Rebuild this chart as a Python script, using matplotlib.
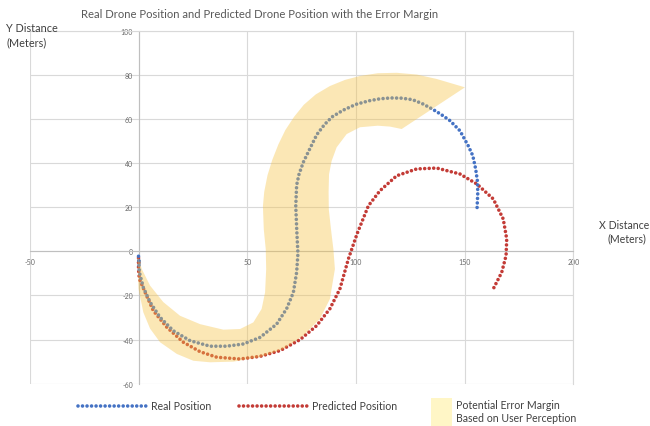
import matplotlib.pyplot as plt
from matplotlib.lines import Line2D
from matplotlib.patches import Rectangle

plt.rcParams['font.family'] = ['Lato', 'DejaVu Sans']
plt.rcParams['axes.unicode_minus'] = False

# real drone path
real_x = [0, 0.4, 2.2, 5.3, 9.9, 16, 23.7, 32.9, 40.5, 48.2, 55.9, 63.5, 68.1, 71.2,
          72.7, 73.3, 72.8, 72.3, 72.7, 73.8, 75.8, 78.5, 82, 85.5, 89, 94, 100, 106,
          111, 116, 121, 126, 130.5, 135, 139, 143.2, 147.8, 151.6, 153.7, 155, 155.8,
          156, 155.6]
real_y = [-2.2, -9.5, -16.3, -23, -29.9, -36, -40.5, -43, -43, -42, -39, -33, -26, -18.6,
          -9.5, -1, 8.7, 20.5, 30, 35, 40.5, 46, 53, 57.5, 61, 64, 66.7, 68.3,
          69.2, 69.6, 69.5, 68.8, 67, 64.6, 62.2, 59.3, 54.7, 47.9, 43.4, 37.5, 32,
          26.8, 18.3]

# predicted drone path
pred_x = [0, 0, 0.4, 3, 6.8, 13, 20.6, 28.3, 36, 46.7, 55.9, 65.1, 74.3, 81.9, 88,
          92.6, 96.5, 100.5, 105.7, 111, 118.7, 127.9, 137.1, 147.8, 155.5, 163.1,
          167.7, 169.3, 169, 167, 162.9]
pred_y = [-3, -8, -12.5, -18.5, -26.9, -34.4, -41.2, -45.5, -48, -48.8, -47.6, -45,
          -40, -33.7, -26, -17, -3.4, 8, 20.7, 27.5, 34.3, 37.4, 37.8, 35.1, 30.6, 23.8,
          14.7, 5.6, -1.9, -9.5, -17.4]

# error margin band outline
band_x = [-0.5, 0, 2.2, 5.3, 9.9, 17.6, 25.2, 32.9, 43.6, 55.9, 66.6, 75.8, 83.4, 88,
          90.3, 89.6, 88.5, 87.5, 87.4, 87.6, 88.8, 91.1, 95.7, 101.8, 110, 115.6, 121,
          150.1, 137.1, 128, 118.7, 110, 102, 95, 88, 81.5, 76, 71.5, 67.5, 64.3, 61.5,
          59.3, 57.8, 57.2, 57.6, 58.5, 58.7, 58.2, 56.6, 52.8, 46.7, 39, 28.3, 19.1,
          11.4, 5.3, 1.5, 0]
band_y = [-3, -17, -27.6, -35, -41.2, -46.5, -49.6, -50.3, -50, -48, -44.3, -38.2,
          -30.6, -21.6, -8, 1, 10, 19, 27, 35, 41, 47.2, 53.2, 56.3, 57, 56.6, 55.5,
          74.4, 78.2, 80.2, 81, 80.8, 79.6, 77.8, 75, 71.2, 66.5, 61, 55, 48.5, 41.5,
          34.5, 27, 20.5, 10, 1, -8, -18.6, -26.1, -32.2, -35.2, -35.5, -33, -29.2,
          -23, -15.5, -8, -3]

blue = '#4472C4'
red = '#C33B36'
dots = (0, (0.001, 1.25))

fig = plt.figure(figsize=(6.5, 4.27), dpi=100)
ax = fig.add_axes([0.0458, 0.0991, 0.8365, 0.8262])

ax.plot(pred_x, pred_y, color=red, lw=2.6, ls=dots, dash_capstyle='round', zorder=3)
ax.plot(real_x, real_y, color=blue, lw=2.6, ls=dots, dash_capstyle='round', zorder=3)
ax.fill(band_x, band_y, color='#F5C448', alpha=0.4, lw=0, zorder=4)

ax.set_xlim(-50, 200)
ax.set_ylim(-60, 100)
ax.set_xticks(range(-50, 201, 50))
ax.set_yticks(range(-60, 101, 20))
ax.grid(color='#d9d9d9', lw=0.8)
ax.set_axisbelow(True)
ax.spines['left'].set_position(('data', 0))
ax.spines['bottom'].set_position(('data', 0))
for s in ['left', 'bottom']:
    ax.spines[s].set_color('#bfbfbf')
for s in ['top', 'right']:
    ax.spines[s].set_color('#d9d9d9')
for s in ax.spines.values():
    s.set_linewidth(0.8)
ax.tick_params(length=0, labelsize=5, labelcolor='#6a6a6a')
ax.tick_params(axis='x', pad=4.5)
ax.tick_params(axis='y', pad=4)

txt = '#404040'
fig.text(260 / 650, 1 - 15 / 427,
         'Real Drone Position and Predicted Drone Position with the Error Margin',
         ha='center', va='center', fontsize=8.1, color='#595959')
fig.text(6 / 650, 1 - 29 / 427, 'Y Distance', va='center', fontsize=7.8, color=txt)
fig.text(6 / 650, 1 - 43 / 427, '(Meters)', va='center', fontsize=7.8, color=txt)
fig.text(649 / 650, 1 - 226 / 427, 'X Distance', ha='right', va='center', fontsize=7.6, color=txt)
fig.text(627 / 650, 1 - 239 / 427, '(Meters)', ha='center', va='center', fontsize=7.6, color=txt)

# legend
ly = 1 - 407 / 427
fig.add_artist(Line2D([78 / 650, 146 / 650], [ly, ly], transform=fig.transFigure,
                      color=blue, lw=2.6, ls=dots, dash_capstyle='round'))
fig.text(151 / 650, ly, 'Real Position', va='center', fontsize=7.6, color=txt)
fig.add_artist(Line2D([239 / 650, 307 / 650], [ly, ly], transform=fig.transFigure,
                      color=red, lw=2.6, ls=dots, dash_capstyle='round'))
fig.text(312 / 650, ly, 'Predicted Position', va='center', fontsize=7.6, color=txt)
fig.add_artist(Rectangle((431 / 650, 0), 21 / 650, 28 / 427, transform=fig.transFigure,
                         color='#FFF6C6', lw=0))
fig.text(456 / 650, 1 - 406 / 427, 'Potential Error Margin', va='center', fontsize=7.6, color=txt)
fig.text(456 / 650, 1 - 419 / 427, 'Based on User Perception', va='center', fontsize=7.6, color=txt)

fig.savefig('out.png', dpi=100)
